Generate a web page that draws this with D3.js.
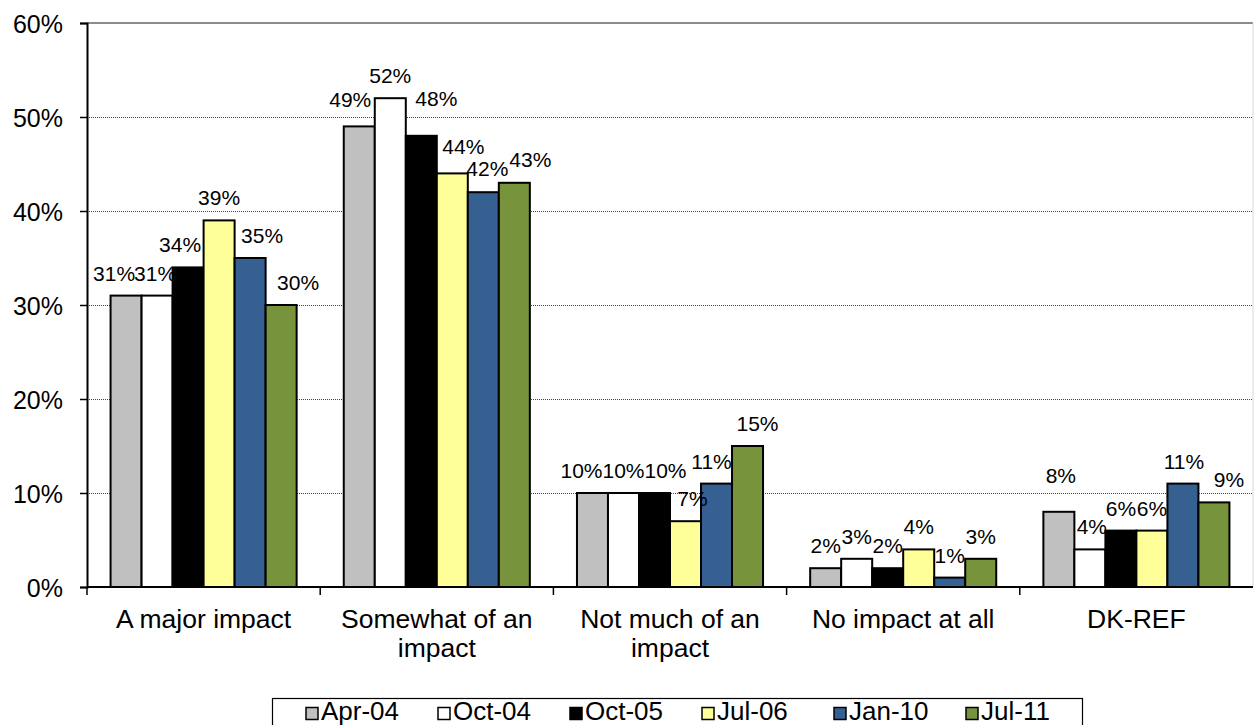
<!DOCTYPE html>
<html>
<head>
<meta charset="utf-8">
<script src="https://cdn.jsdelivr.net/npm/d3@7/dist/d3.min.js"></script>
<style>
  html, body { margin: 0; padding: 0; background: #fff; }
  svg { display: block; font-family: "Liberation Sans", Arial, sans-serif; }
</style>
</head>
<body>
<svg id="chart" width="1254" height="725"></svg>
<script>
// ---- data ----
const categories = ["A major impact", "Somewhat of an impact", "Not much of an impact", "No impact at all", "DK-REF"];
const categoryLines = [["A major impact"], ["Somewhat of an", "impact"], ["Not much of an", "impact"], ["No impact at all"], ["DK-REF"]];
const seriesNames = ["Apr-04", "Oct-04", "Oct-05", "Jul-06", "Jan-10", "Jul-11"];
const apr04 = [31, 49, 10, 2, 8];
const oct04 = [31, 52, 10, 3, 4];
const oct05 = [34, 48, 10, 2, 6];
const jul06 = [39, 44, 7, 4, 6];
const jan10 = [35, 42, 11, 1, 11];
const jul11 = [30, 43, 15, 3, 9];
const yTicks = [0, 10, 20, 30, 40, 50, 60];

// ---- styling (not data) ----
const colors = ["#C0C0C0", "#FFFFFF", "#000000", "#FFFF99", "#366092", "#77933C"];
// label nudges imitating the reference's label placement [dx, dy] per category, per series
const labelNudge = [
  [[-12, 0], [-2, 0], [-8, 0], [0, 0], [12, 0], [17, 0]],
  [[-9, -4], [0, 0], [15, -15], [11, -4], [4, -1], [16, -1]],
  [[-11, 0], [0, 0], [11, 0], [7, 0], [-5, 0], [10, 0]],
  [[0, 0], [0, 0], [0, 0], [0, 0], [0, 0], [0, 0]],
  [[2, -14], [2, 0], [0, 0], [0, 0], [1, 0], [15, 0]]
];

const seriesValues = [apr04, oct04, oct05, jul06, jan10, jul11];

const svg = d3.select("#chart");
const plotL = 87, plotR = 1253, plotT = 23, plotB = 587;

const y = d3.scaleLinear().domain([0, 60]).range([plotB, plotT]);
const x0 = d3.scaleBand().domain(categories).range([plotL, plotR]).paddingInner(0).paddingOuter(0);
const x1 = d3.scaleBand().domain(seriesNames).range([0, x0.bandwidth()]).paddingInner(0).paddingOuter(0.76);

// plot area border (top/right, grey)
svg.append("line").attr("x1", plotL).attr("x2", plotR).attr("y1", plotT).attr("y2", plotT)
  .attr("stroke", "#8c8c8c").attr("stroke-width", 2);
svg.append("line").attr("x1", plotR).attr("x2", plotR).attr("y1", plotT).attr("y2", plotB)
  .attr("stroke", "#d9d9d9").attr("stroke-width", 1);

// gridlines
svg.append("g").selectAll("line").data(yTicks.filter(t => t > 0 && t < 60)).join("line")
  .attr("x1", plotL).attr("x2", plotR)
  .attr("y1", d => Math.round(y(d)) + 0.5).attr("y2", d => Math.round(y(d)) + 0.5)
  .attr("stroke", "#444").attr("stroke-width", 1).attr("stroke-dasharray", "1,1");

// bars
const groups = svg.append("g").selectAll("g").data(categories).join("g")
  .attr("transform", d => `translate(${x0(d)},0)`);

groups.each(function(cat, ci) {
  const g = d3.select(this);
  seriesNames.forEach((s, si) => {
    const v = seriesValues[si][ci];
    g.append("rect")
      .attr("x", x1(s)).attr("width", x1.bandwidth())
      .attr("y", y(v)).attr("height", y(0) - y(v))
      .attr("fill", colors[si]).attr("stroke", "#000").attr("stroke-width", 2);
  });
});

// value labels
groups.each(function(cat, ci) {
  const g = d3.select(this);
  seriesNames.forEach((s, si) => {
    const v = seriesValues[si][ci];
    const n = labelNudge[ci][si];
    g.append("text")
      .attr("x", x1(s) + x1.bandwidth() / 2 + n[0])
      .attr("y", y(v) - 15 + n[1])
      .attr("text-anchor", "middle")
      .attr("font-size", 21)
      .attr("fill", "#000")
      .text(v + "%");
  });
});

// y axis
const yAxis = d3.axisLeft(y).tickValues(yTicks).tickFormat(d => d + "%").tickSize(7).tickPadding(17);
const ya = svg.append("g").attr("transform", `translate(${plotL},0)`).call(yAxis);
ya.select(".domain").attr("stroke", "#000").attr("stroke-width", 2);
ya.selectAll(".tick line").attr("stroke", "#000").attr("stroke-width", 1.5);
ya.selectAll(".tick text").attr("font-size", 25).attr("fill", "#000")
  .attr("font-family", "Liberation Sans, Arial, sans-serif").attr("dy", "0.36em");

// x axis
svg.append("line").attr("x1", plotL).attr("x2", plotR).attr("y1", plotB).attr("y2", plotB)
  .attr("stroke", "#000").attr("stroke-width", 2);
svg.append("g").selectAll("line").data(categories).join("line")
  .attr("x1", d => x0(d)).attr("x2", d => x0(d))
  .attr("y1", plotB).attr("y2", plotB + 8)
  .attr("stroke", "#000").attr("stroke-width", 1.5);

const catText = svg.append("g").selectAll("text").data(categories).join("text")
  .attr("x", d => x0(d) + x0.bandwidth() / 2)
  .attr("y", 628)
  .attr("text-anchor", "middle")
  .attr("font-size", 26.5)
  .attr("fill", "#000");
catText.each(function(d, i) {
  const t = d3.select(this);
  categoryLines[i].forEach((line, li) => {
    t.append("tspan").attr("x", x0(d) + x0.bandwidth() / 2).attr("dy", li === 0 ? 0 : 29).text(line);
  });
});

// legend (equal-width slots)
const legend = svg.append("g");
legend.append("rect").attr("x", 272.5).attr("y", 698.5).attr("width", 810).attr("height", 50)
  .attr("fill", "#fff").attr("stroke", "#000").attr("stroke-width", 1.2);
const slot = d3.scaleBand().domain(seriesNames).range([306, 306 + 132 * seriesNames.length]);
seriesNames.forEach((s, i) => {
  const sx = slot(s);
  legend.append("rect").attr("x", sx).attr("y", 707.5).attr("width", 12).attr("height", 12)
    .attr("fill", colors[i]).attr("stroke", "#000").attr("stroke-width", 1.5);
  legend.append("text").attr("x", sx + 15).attr("y", 720)
    .attr("font-size", 26).attr("fill", "#000").text(s);
});
</script>
</body>
</html>
